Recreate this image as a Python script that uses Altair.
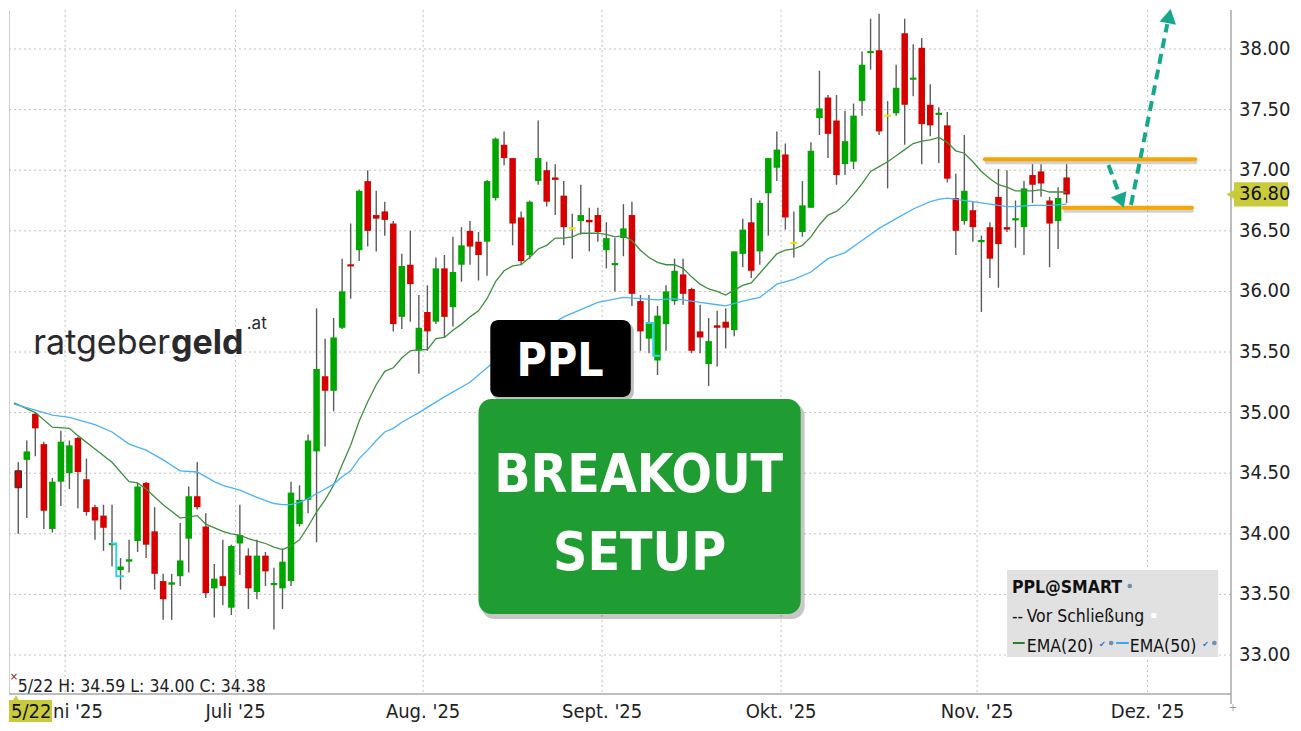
import altair as alt
import pandas as pd

# ---------------- data ----------------
opens = [34.52, 34.61, 34.99, 34.74, 34.04, 34.43, 34.50, 34.79, 34.45, 34.22,
         34.15, 33.91, 33.70, 33.77, 33.94, 34.42, 34.02, 33.61, 33.58, 33.65,
         33.96, 34.31, 34.06, 33.55, 33.65, 33.39, 33.92, 33.82, 33.52, 33.82,
         33.58, 33.55, 33.61, 34.08, 34.28, 34.68, 35.30, 35.18, 35.70, 36.22,
         36.34, 36.91, 36.63, 36.66, 36.56, 35.79, 36.22, 35.51, 35.83, 35.75,
         36.19, 35.87, 36.22, 36.50, 36.41, 36.41, 36.77, 37.21, 37.10, 36.61,
         36.30, 36.91, 37.00, 36.94, 36.79, 36.52, 36.58, 36.59, 36.63, 36.34,
         36.22, 36.44, 36.63, 35.92, 35.61, 35.43, 35.73, 35.92, 36.14, 36.02,
         35.67, 35.40, 35.72, 35.75, 35.68, 36.31, 36.57, 36.33, 36.81, 37.02,
         37.13, 36.40, 36.49, 36.69, 37.43, 37.60, 37.41, 37.05, 37.07, 37.57,
         37.97, 37.99, 37.45, 37.47, 38.13, 37.75, 38.01, 37.54, 37.46, 37.37,
         36.77, 36.58, 36.67, 36.41, 36.53, 36.78, 36.53, 36.59, 36.53, 36.96,
         36.99, 36.75, 36.58, 36.94]
highs = [34.59, 34.77, 35.00, 34.76, 34.46, 34.85, 34.77, 34.80, 34.62, 34.24,
         34.24, 34.24, 33.80, 33.95, 34.42, 34.43, 34.22, 33.67, 33.67, 34.09,
         34.39, 34.59, 34.17, 33.75, 33.95, 33.91, 34.24, 33.88, 33.95, 33.85,
         33.72, 33.88, 34.43, 34.40, 34.82, 35.86, 35.61, 35.78, 36.27, 36.56,
         36.84, 37.00, 36.83, 36.74, 36.58, 36.31, 36.50, 35.97, 36.05, 36.28,
         36.30, 36.45, 36.53, 36.58, 36.49, 36.92, 37.27, 37.32, 37.10, 36.66,
         36.75, 37.41, 37.07, 37.05, 36.91, 36.64, 36.88, 36.69, 36.69, 36.57,
         36.44, 36.72, 36.74, 35.97, 35.97, 35.88, 36.05, 36.27, 36.27, 36.03,
         35.89, 35.78, 35.84, 35.86, 36.33, 36.60, 36.77, 36.75, 37.10, 37.32,
         37.22, 36.66, 36.91, 37.23, 37.82, 37.62, 37.62, 37.49, 37.55, 37.98,
         38.25, 38.29, 37.57, 37.87, 38.25, 38.04, 38.09, 37.71, 37.52, 37.48,
         36.97, 37.29, 36.74, 36.46, 36.57, 37.01, 37.00, 36.75, 36.91, 37.05,
         37.05, 36.78, 36.86, 37.05]
lows = [34.00, 34.13, 34.64, 34.04, 34.01, 34.23, 34.37, 34.21, 34.15, 33.95,
        33.86, 33.73, 33.54, 33.68, 33.85, 33.80, 33.54, 33.29, 33.29, 33.57,
        33.68, 34.20, 33.47, 33.31, 33.41, 33.33, 33.66, 33.38, 33.46, 33.57,
        33.21, 33.38, 33.57, 34.06, 34.17, 33.93, 34.72, 35.01, 35.69, 35.94,
        36.25, 36.37, 36.33, 36.46, 35.67, 35.69, 35.75, 35.32, 35.51, 35.73,
        35.62, 35.71, 36.08, 36.22, 36.09, 36.13, 36.75, 37.04, 36.38, 36.22,
        36.27, 36.88, 36.70, 36.63, 36.38, 36.27, 36.47, 36.33, 36.41, 36.19,
        36.00, 36.29, 35.88, 35.51, 35.49, 35.31, 35.51, 35.89, 35.89, 35.49,
        35.49, 35.22, 35.38, 35.53, 35.63, 36.20, 36.11, 36.22, 36.46, 36.91,
        36.51, 36.28, 36.45, 36.69, 37.29, 37.10, 36.88, 36.96, 37.01, 37.45,
        37.83, 37.29, 36.85, 37.45, 37.21, 37.61, 37.05, 37.28, 37.06, 36.90,
        36.30, 36.55, 36.41, 35.83, 36.11, 36.03, 36.49, 36.36, 36.30, 36.73,
        36.78, 36.20, 36.35, 36.73]
closes = [34.38, 34.68, 34.87, 34.19, 34.43, 34.76, 34.73, 34.51, 34.18, 34.11,
          34.05, 33.92, 33.73, 33.79, 34.39, 33.91, 33.67, 33.46, 33.60, 33.78,
          34.31, 34.22, 33.51, 33.63, 33.57, 33.90, 33.99, 33.55, 33.82, 33.69,
          33.59, 33.77, 34.34, 34.28, 34.77, 35.36, 35.18, 35.62, 36.00, 36.21,
          36.83, 36.50, 36.60, 36.59, 35.73, 36.21, 36.06, 35.70, 35.67, 36.19,
          35.79, 36.16, 36.38, 36.37, 36.30, 36.91, 37.26, 37.10, 36.56, 36.25,
          36.74, 37.10, 36.74, 36.92, 36.53, 36.52, 36.63, 36.57, 36.49, 36.44,
          36.23, 36.52, 35.98, 35.67, 35.74, 35.80, 36.00, 36.17, 35.98, 35.51,
          35.62, 35.59, 35.70, 35.70, 36.33, 36.51, 36.17, 36.73, 37.10, 37.17,
          36.61, 36.40, 36.71, 37.16, 37.51, 37.30, 36.96, 37.24, 37.45, 37.87,
          37.98, 37.32, 37.45, 37.68, 37.54, 37.76, 37.38, 37.37, 37.47, 36.93,
          36.50, 36.83, 36.53, 36.42, 36.27, 36.39, 36.51, 36.60, 36.85, 36.88,
          36.89, 36.56, 36.77, 36.80]

ema20_idx = [-0.5, 2, 4, 6, 7, 9, 11, 13, 14, 15, 17, 19, 20, 21, 22,
             24, 25, 26, 27, 28, 29, 30, 31, 32, 33, 34, 35, 36, 37, 38, 39, 40, 41, 42, 43,
             44, 45, 46, 47, 48, 49, 50, 51, 52, 53, 54, 55, 56, 57, 58, 59, 60, 61, 62, 63,
             64, 65, 66, 67, 68, 69, 70, 71, 72, 73, 74, 75, 76, 77, 78, 79, 80, 81, 82, 83,
             84, 85, 86, 87, 88, 89, 90, 91, 92, 93, 94, 95, 96, 97, 98, 99, 100, 101, 102, 103,
             104, 105, 106, 107, 108, 109, 110, 111, 112, 113, 114, 115, 116, 117, 118, 119, 120, 121, 122, 123]
ema20_val = [35.08, 35.00, 34.88, 34.87, 34.81, 34.70, 34.59, 34.43, 34.42, 34.37, 34.24, 34.13, 34.14, 34.15, 34.08,
             34.02, 34.00, 33.99, 33.96, 33.94, 33.92, 33.89, 33.87, 33.90, 33.95, 34.06, 34.18, 34.28, 34.40, 34.57, 34.73, 34.93, 35.09, 35.23, 35.34,
             35.37, 35.45, 35.51, 35.52, 35.52, 35.61, 35.62, 35.68, 35.73, 35.79, 35.84, 35.94, 36.08, 36.17, 36.21, 36.22, 36.28, 36.35, 36.38, 36.44,
             36.44, 36.45, 36.48, 36.48, 36.48, 36.47, 36.45, 36.46, 36.42, 36.34, 36.28, 36.24, 36.22, 36.22, 36.19, 36.12, 36.06, 36.02, 36.00, 35.97,
             36.01, 36.05, 36.07, 36.15, 36.23, 36.31, 36.34, 36.35, 36.38, 36.45, 36.55, 36.63, 36.66, 36.72, 36.80, 36.89, 36.99, 37.03, 37.07, 37.12,
             37.17, 37.22, 37.24, 37.25, 37.27, 37.23, 37.16, 37.14, 37.07, 36.99, 36.93, 36.88, 36.86, 36.83, 36.83, 36.83, 36.84, 36.82, 36.82, 36.82]

ema50_idx = [-0.5, 2, 4, 6, 9, 11, 13, 15, 17, 19, 21, 23, 24, 26, 28, 30, 31, 32, 33, 34, 35, 36, 37, 38, 39,
             40, 41, 42, 43, 44, 45, 46, 47, 50, 53, 56, 60, 64, 68, 71, 73, 75, 77, 78, 80, 82, 83, 85, 87,
             89, 91, 93, 95, 97, 99, 101, 103, 105, 107, 108, 109, 110, 112, 114, 116, 117, 119, 121, 123]
ema50_val = [35.07, 35.02, 34.98, 34.96, 34.90, 34.84, 34.74, 34.69, 34.61, 34.52, 34.51, 34.43, 34.40, 34.36, 34.30, 34.25, 34.24, 34.24, 34.26, 34.29, 34.33, 34.37, 34.41, 34.47, 34.52,
             34.62, 34.69, 34.77, 34.84, 34.87, 34.92, 34.96, 35.00, 35.13, 35.25, 35.43, 35.62, 35.79, 35.91, 35.95, 35.94, 35.93, 35.94, 35.93, 35.91, 35.89, 35.88, 35.92, 35.95,
             36.06, 36.10, 36.16, 36.27, 36.32, 36.42, 36.52, 36.60, 36.68, 36.74, 36.76, 36.77, 36.76, 36.74, 36.72, 36.70, 36.70, 36.71, 36.71, 36.72]

month_ticks = [6, 26, 48, 69, 90, 113, 133]
month_labels = ["Juni '25", "Juli '25", "Aug. '25", "Sept. '25", "Okt. '25", "Nov. '25", "Dez. '25"]
y_ticks = [33.0, 33.5, 34.0, 34.5, 35.0, 35.5, 36.0, 36.5, 37.0, 37.5, 38.0]

level_price = [37.09, 36.69]
level_from = [113.9, 123.1]
level_to = [138.6, 138.2]

arrow_seg = [1, 1, 2, 2]
arrow_ord = [0, 1, 0, 1]
arrow_x = [128.41, 129.68, 131.06, 135.31]
arrow_y = [37.043, 36.804, 36.713, 38.206]
head_x = [129.91, 135.54]
head_y = [36.746, 38.272]
head_ang = [159, 11.5]

div_seg = [1, 1, 1, 1, 2, 2, 2, 2]
div_ord = [0, 1, 2, 3, 0, 1, 2, 3]
div_x = [11.4, 12.0, 12.0, 12.9, 74.1, 75.0, 75.0, 75.8]
div_y = [33.92, 33.92, 33.65, 33.65, 35.74, 35.74, 35.47, 35.47]

# ---------------- layout / style ----------------
W, H = 1222, 684
XDOM = [0, 142.2]
YDOM = [32.6782, 38.3218]
COND = "DejaVu Sans Condensed"

GREEN = "#00a600"
RED = "#d60000"
YELLOW = "#eee200"
WICK = "#5c5c5c"
EMA20C = "#3f8f3f"
EMA50C = "#4cb2fa"
ORANGE = "#f7a500"
TEAL = "#17a88c"
TAG = "#c9cb3b"
BOXGREEN = "#1f9c32"
GRID = "#c2c2c2"
AXIS = "#a9a9a9"


def PX(x):
    return round(x * W / 1244, 1)


def PY(y):
    return y - 8


xs = alt.Scale(domain=XDOM, nice=False, zero=False)
ys = alt.Scale(domain=YDOM, nice=False, zero=False)


def X(field):
    return alt.X(field, scale=xs, axis=None)


def Y(field):
    return alt.Y(field, scale=ys, axis=None)


df = pd.DataFrame({"i": list(range(len(opens))), "o": opens, "h": highs, "l": lows, "c": closes})
one = pd.DataFrame({"k": [0]})

# ---- axes drawn as marks through the shared scales ----
mt = pd.DataFrame({"t": month_ticks, "lab": month_labels})
yt = pd.DataFrame({"t": y_ticks})
vgrid = alt.Chart(mt).mark_rule(color=GRID, strokeDash=[2, 3], strokeWidth=1).encode(
    x=X("t:Q"), y=alt.value(0), y2=alt.value(H))
hgrid = alt.Chart(yt).mark_rule(color=GRID, strokeDash=[2, 3], strokeWidth=1).encode(
    y=Y("t:Q"), x=alt.value(0), x2=alt.value(W))
xlabels = alt.Chart(mt.iloc[1:]).mark_text(font=COND, fontSize=20, color="#222222", align="center", baseline="alphabetic").encode(
    x=X("t:Q"), y=alt.value(H + 24), text="lab:N")
# the first month label is partly hidden behind the date marker: only its visible tail is drawn
first_label = alt.Chart(one).mark_text(text=month_labels[0][2:], font=COND, fontSize=20, color="#222222",
                                       align="left", baseline="alphabetic").encode(x=alt.value(44), y=alt.value(H + 24))
ylabels = alt.Chart(yt).mark_text(font=COND, fontSize=20, color="#222222", align="left", baseline="middle").encode(
    y=Y("t:Q"), x=alt.value(W + 8), text=alt.Text("t:Q", format=".2f"))
xdomain = alt.Chart(one).mark_rule(color=AXIS, strokeWidth=1.5).encode(
    x=alt.value(0), x2=alt.value(W), y=alt.value(H))
ydomain = alt.Chart(one).mark_rule(color=AXIS, strokeWidth=1.5).encode(
    x=alt.value(W), y=alt.value(0), y2=alt.value(H + 10))
left_border = alt.Chart(one).mark_rule(color="#cfcfcf", strokeWidth=1).encode(
    x=alt.value(0.5), y=alt.value(0), y2=alt.value(H))

# ---- candles ----
base = alt.Chart(df).transform_calculate(
    xc="datum.i + 0.5",
    span="abs(datum.o - datum.c)",
    mid="(datum.o + datum.c) / 2",
).transform_calculate(
    top="datum.span < 0.018 ? datum.mid + 0.009 : max(datum.o, datum.c)",
    bot="datum.span < 0.018 ? datum.mid - 0.009 : min(datum.o, datum.c)",
    dir="datum.c > datum.o ? 'up' : (datum.c < datum.o ? 'down' : 'flat')",
)

wicks = base.mark_rule(color=WICK, strokeWidth=1.4).encode(
    x=X("xc:Q"), y=Y("l:Q"), y2="h:Q")
bodies = base.mark_bar(width=6.5, strokeWidth=1).encode(
    x=X("xc:Q"), y=Y("top:Q"), y2="bot:Q",
    color=alt.Color("dir:N", scale=alt.Scale(domain=["up", "down", "flat"], range=[GREEN, RED, YELLOW]), legend=None),
    stroke=alt.condition("datum.i == 0", alt.value("#333333"), alt.value("transparent")),
)


def ema_layer(idx, vals, color):
    return alt.Chart(pd.DataFrame({"i": idx, "v": vals})).transform_calculate(
        xc="datum.i + 0.5").mark_line(color=color, strokeWidth=1.3).encode(
        x=X("xc:Q"), y=Y("v:Q"))


ema20 = ema_layer(ema20_idx, ema20_val, EMA20C)
ema50 = ema_layer(ema50_idx, ema50_val, EMA50C)

divs = alt.Chart(pd.DataFrame({"s": div_seg, "o": div_ord, "x": div_x, "y": div_y})).mark_line(
    color="#2fd3e6", strokeWidth=2).encode(
    x=X("x:Q"), y=Y("y:Q"), detail="s:N", order="o:Q")

lv = pd.DataFrame({"p": level_price, "a": level_from, "b": level_to})
lv_shadow = alt.Chart(lv).mark_rule(color="#9a9a9a", opacity=0.45, strokeWidth=4, strokeCap="round", yOffset=3, xOffset=2).encode(
    x=X("a:Q"), x2="b:Q", y=Y("p:Q"))
lv_lines = alt.Chart(lv).mark_rule(color=ORANGE, strokeWidth=4, strokeCap="round").encode(
    x=X("a:Q"), x2="b:Q", y=Y("p:Q"))

arrows = alt.Chart(pd.DataFrame({"s": arrow_seg, "o": arrow_ord, "x": arrow_x, "y": arrow_y})).mark_line(
    color=TEAL, strokeWidth=4, strokeDash=[10, 6]).encode(
    x=X("x:Q"), y=Y("y:Q"), detail="s:N", order="o:Q")
heads = alt.Chart(pd.DataFrame({"x": head_x, "y": head_y, "a": head_ang})).mark_point(
    shape="triangle-up", filled=True, size=280, color=TEAL, opacity=1).encode(
    x=X("x:Q"), y=Y("y:Q"), angle=alt.Angle("a:Q", scale=None))

# ---- price tag ----
tag_df = pd.DataFrame({"p": [closes[-1]]})
tag_base = alt.Chart(tag_df).transform_calculate(hi="datum.p + 0.1", lo="datum.p - 0.1")
tag_rect = tag_base.mark_rect(color=TAG).encode(
    x=alt.value(W + 3), x2=alt.value(W + 57), y=Y("hi:Q"), y2="lo:Q")
tag_tri = tag_base.mark_point(shape="triangle-left", filled=True, size=110, color=TAG, opacity=1).encode(
    x=alt.value(W), y=Y("p:Q"))
tag_txt = tag_base.mark_text(align="left", baseline="middle", font=COND, fontSize=20, color="#111111").encode(
    x=alt.value(W + 8), y=Y("p:Q"), text=alt.Text("p:Q", format=".2f"))


def rect(x1, x2, y1, y2, color, radius=0, opacity=1.0):
    return alt.Chart(one).mark_rect(color=color, cornerRadius=radius, opacity=opacity).encode(
        x=alt.value(x1), x2=alt.value(x2), y=alt.value(y1), y2=alt.value(y2))


def txt(s, x, y, size, font=COND, weight="normal", color="#222222", align="left", baseline="alphabetic"):
    return alt.Chart(one).mark_text(text=s, font=font, fontSize=size, fontWeight=weight, color=color,
                                    align=align, baseline=baseline).encode(x=alt.value(x), y=alt.value(y))


def dot(x, y, color="#6f8fb3", size=22, shape="circle"):
    return alt.Chart(one).mark_point(shape=shape, filled=True, size=size, color=color, opacity=1).encode(
        x=alt.value(x), y=alt.value(y))


deco = [
    # logo
    txt("ratgeber", PX(164), PY(352), 34, font="Inter", color="#2a2a2e", align="right"),
    txt("geld", PX(165), PY(352), 34, font="Inter", weight="bold", color="#2a2a2e"),
    txt(".at", PX(242), PY(327), 17, font="Inter", color="#2a2a2e"),
    # PPL box
    rect(PX(492), PX(636), PY(321), PY(398), "#000000", 8, 0.25),
    rect(PX(490), PX(633), PY(318), PY(395), "#000000", 8),
    txt("PPL", PX(561), PY(374), 46, weight="bold", color="white", align="center"),
    # breakout box
    rect(PX(481), PX(810), PY(401), PY(617), "#000000", 13, 0.22),
    rect(PX(478), PX(806), PY(397), PY(612), BOXGREEN, 13),
    txt("BREAKOUT", PX(641), PY(490), 53, weight="bold", color="white", align="center"),
    txt("SETUP", PX(642), PY(568), 53, weight="bold", color="white", align="center"),
    # legend box
    rect(PX(1016), PX(1231), PY(568), PY(655), "#e1e1e1"),
    txt("PPL@SMART", PX(1021), PY(591), 17.5, weight="bold", color="#111111"),
    txt("--", PX(1021), PY(620), 17, color="#111111"),
    txt("Vor Schließung", PX(1036), PY(620), 17.5, color="#111111"),
    txt("EMA(20)", PX(1036), PY(650), 17.5, color="#111111"),
    txt("EMA(50)", PX(1141), PY(650), 17.5, color="#111111"),
    rect(PX(1022), PX(1034), PY(640), PY(642), "#2e7d2e"),
    rect(PX(1127), PX(1140), PY(640), PY(642), "#3aa6ee"),
    rect(PX(1163), PX(1168), PY(611), PY(616), "#ffffff"),
    txt("✔", PX(1113), PY(645), 8, font="DejaVu Sans", color="#2a6fd6", align="center"),
    txt("✔", PX(1218), PY(645), 8, font="DejaVu Sans", color="#2a6fd6", align="center"),
    dot(PX(1141), PY(584)),
    dot(PX(1122), PY(641)),
    dot(PX(1227), PY(641)),
    # info line
    txt("×", PX(5), PY(678), 10, font="DejaVu Sans", color="#8a2020", align="center"),
    txt("5/22 H: 34.59 L: 34.00 C: 34.38", PX(9), PY(690), 17.5, color="#222222"),
    # date marker on the axis
    rect(0, 43, H + 6, H + 28, TAG),
    dot(7, H + 4, color=TAG, size=40, shape="triangle-up"),
    txt("5/22", 2, H + 24, 20, color="#111111"),
    # small axis-corner marker
    txt("+", W + 2, H + 17, 10, font="DejaVu Sans", color="#999999", align="center"),
]

chart = alt.layer(
    vgrid, hgrid, left_border, wicks, bodies, divs, ema20, ema50, lv_shadow, lv_lines, arrows, heads,
    xdomain, ydomain, xlabels, first_label, ylabels, tag_rect, tag_tri, tag_txt, *deco,
).properties(width=W, height=H, padding=0, background="white").configure_view(stroke=None)

chart.save("out.html", embed_options={"renderer": "svg", "actions": False})
